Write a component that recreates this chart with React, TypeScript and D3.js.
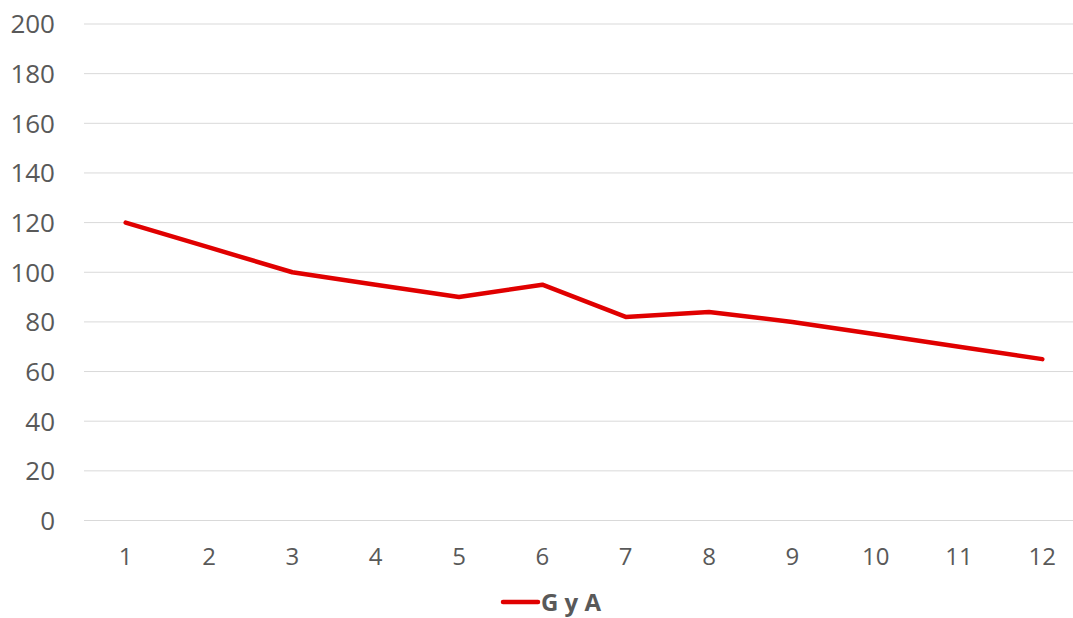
import * as d3 from "d3";
import { useEffect, useRef } from "react";

const W = 1073;
const H = 618;

// months along the x axis
const categories = ["1", "2", "3", "4", "5", "6", "7", "8", "9", "10", "11", "12"];
// series "G y A"
const seriesName = "G y A";
const values = [120, 110, 100, 95, 90, 95, 82, 84, 80, 75, 70, 65];
const yTicks = [0, 20, 40, 60, 80, 100, 120, 140, 160, 180, 200];

const FONT = "'Open Sans', sans-serif";
const TEXT = "#595959";

const draw = (el: SVGSVGElement) => {
  const svg = d3.select(el);
  svg.selectAll("*").remove();

  const x = d3.scaleBand().domain(categories).range([84, 1084]);
  const y = d3.scaleLinear().domain([0, 200]).range([520.5, 24]);

  // gridlines
  svg
    .append("g")
    .selectAll("line")
    .data(yTicks)
    .join("line")
    .attr("x1", 84)
    .attr("x2", 1084)
    .attr("y1", (d) => y(d))
    .attr("y2", (d) => y(d))
    .attr("stroke", "#d9d9d9")
    .attr("stroke-width", 1);

  // y labels
  svg
    .append("g")
    .selectAll("text")
    .data(yTicks)
    .join("text")
    .attr("x", 55)
    .attr("y", (d) => y(d))
    .attr("dy", "0.36em")
    .attr("text-anchor", "end")
    .attr("font-family", FONT)
    .attr("font-size", 26)
    .attr("fill", TEXT)
    .text((d) => d);

  // x labels
  svg
    .append("g")
    .selectAll("text")
    .data(categories)
    .join("text")
    .attr("x", (d) => x(d)! + x.bandwidth() / 2)
    .attr("y", 556)
    .attr("dy", "0.36em")
    .attr("text-anchor", "middle")
    .attr("font-family", FONT)
    .attr("font-size", 24)
    .attr("fill", TEXT)
    .text((d) => d);

  const line = d3
    .line<number>()
    .x((_, i) => x(categories[i])! + x.bandwidth() / 2)
    .y((d) => y(d));

  svg
    .append("path")
    .datum(values)
    .attr("d", line)
    .attr("fill", "none")
    .attr("stroke", "#e00000")
    .attr("stroke-width", 4.5)
    .attr("stroke-linejoin", "round")
    .attr("stroke-linecap", "round");

  // legend
  const lg = svg.append("g");
  lg.append("line")
    .attr("x1", 503)
    .attr("x2", 538)
    .attr("y1", 602)
    .attr("y2", 602)
    .attr("stroke", "#e00000")
    .attr("stroke-width", 4.5)
    .attr("stroke-linecap", "round");
  lg.append("text")
    .attr("x", 541)
    .attr("y", 602)
    .attr("dy", "0.36em")
    .attr("font-family", FONT)
    .attr("font-size", 24)
    .attr("font-weight", "bold")
    .attr("fill", TEXT)
    .text(seriesName);
};

export default function App() {
  const ref = useRef<SVGSVGElement>(null);
  useEffect(() => {
    if (!ref.current) return;
    draw(ref.current);
  }, []);
  return (
    <div style={{ position: "fixed", left: 0, top: 0, background: "#fff" }}>
      <svg ref={ref} width={W} height={H} style={{ display: "block" }} />
    </div>
  );
}
